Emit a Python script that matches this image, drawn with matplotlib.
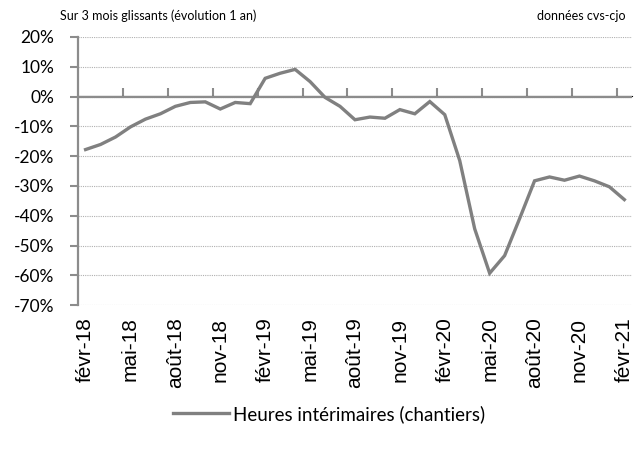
import numpy as np
import matplotlib.pyplot as plt

# données : heures intérimaires (chantiers), évolution sur 3 mois glissants
mois = ["févr-18", "mars-18", "avr-18", "mai-18", "juin-18", "juil-18",
        "août-18", "sept-18", "oct-18", "nov-18", "déc-18", "janv-19",
        "févr-19", "mars-19", "avr-19", "mai-19", "juin-19", "juil-19",
        "août-19", "sept-19", "oct-19", "nov-19", "déc-19", "janv-20",
        "févr-20", "mars-20", "avr-20", "mai-20", "juin-20", "juil-20",
        "août-20", "sept-20", "oct-20", "nov-20", "déc-20", "janv-21",
        "févr-21"]
heures = [-17.8, -16.1, -13.6, -10.2, -7.6, -5.8, -3.3, -2.0, -1.8, -4.2,
          -2.0, -2.4, 6.1, 7.8, 9.1, 5.0, -0.3, -3.3, -7.8, -6.9, -7.3,
          -4.4, -5.8, -1.7, -6.1, -21.5, -44.4, -59.3, -53.4, -41.0, -28.3,
          -27.0, -28.1, -26.7, -28.3, -30.3, -34.6]

police = "Lato"
gris = "#808080"

fig = plt.figure(figsize=(6.35, 4.5), dpi=100)
ax = fig.add_axes([0.123, 0.322, 0.872, 0.596])

x = np.arange(len(mois))
ax.plot(x, heures, color=gris, lw=2.4, solid_joinstyle="miter",
        label="Heures intérimaires (chantiers)")

ax.set_xlim(-0.5, len(mois) - 0.5)
ax.set_ylim(-70, 20)
ax.set_yticks(np.arange(-70, 21, 10))
ax.set_yticklabels([f"{v}%" for v in range(-70, 21, 10)], fontfamily=police, fontsize=12.5)
ax.yaxis.grid(True, ls=(0, (1, 1)), color="#b0b0b0", lw=0.8)
ax.set_axisbelow(True)
ax.axhline(0, color="#8c8c8c", lw=1.6, zorder=1)

ax.set_xticks(x[::3])
ax.set_xticklabels(mois[::3], rotation=90, fontfamily="Liberation Sans", fontsize=15)
ax.tick_params(axis="x", length=0, pad=9)
ax.tick_params(axis="y", length=6, width=1.5, color="#8c8c8c", pad=11)

for s in ["top", "right", "bottom"]:
    ax.spines[s].set_visible(False)
ax.spines["left"].set_color("#8c8c8c")
ax.spines["left"].set_linewidth(1.6)

# graduations sur la ligne du zéro
sec = ax.secondary_xaxis(70 / 90)
sec.set_xticks(x[::3][1:] - 0.5)
sec.set_xticklabels([])
sec.tick_params(length=6, width=1.5, color="#8c8c8c", direction="out")
sec.spines["bottom"].set_visible(False)

fig.text(0.094, 0.955, "Sur 3 mois glissants (évolution 1 an)", fontfamily=police,
         fontsize=9, va="baseline")
fig.text(0.985, 0.955, "données cvs-cjo", fontfamily=police, fontsize=9,
         va="baseline", ha="right")

fig.legend(loc="center", bbox_to_anchor=(0.518, 0.08), frameon=False,
           prop={"family": police, "size": 13.5}, handlelength=3.0,
           handletextpad=0.2)

fig.savefig("out.png", dpi=100)
